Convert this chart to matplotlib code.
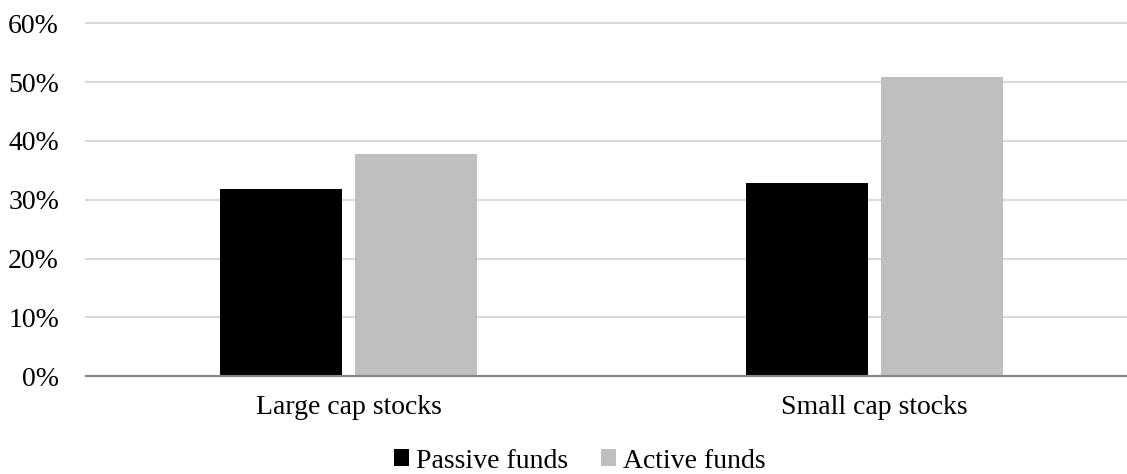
import numpy as np
import matplotlib.pyplot as plt
from matplotlib.ticker import PercentFormatter

categories = ['Large cap stocks', 'Small cap stocks']
passive = [0.318, 0.328]
active = [0.378, 0.509]
series_names = ['Passive funds', 'Active funds']

plt.rcParams['font.family'] = ['Liberation Serif', 'DejaVu Serif']

fig = plt.figure(figsize=(11.27, 4.74), dpi=100)
ax = fig.add_axes([85.5 / 1127, 98 / 474, (1127 - 85.5) / 1127, (376 - 23.5) / 474])

x = np.arange(len(categories))
w = 0.232
ax.bar(x - 0.128, passive, w, color='black', label=series_names[0], zorder=3)
ax.bar(x + 0.128, active, w, color='#bfbfbf', label=series_names[1], zorder=3)

ax.set_xlim(-0.5, -0.5 + (1127 - 85.5) / 526)
ax.set_ylim(0, 0.6)
ax.set_yticks(np.arange(0, 0.61, 0.1))
ax.yaxis.set_major_formatter(PercentFormatter(1.0, decimals=0))
ax.set_xticks(x)
ax.set_xticklabels(categories)
ax.tick_params(axis='both', length=0, labelsize=20, colors='black')
ax.tick_params(axis='y', pad=19)
ax.tick_params(axis='x', pad=14)
ax.grid(axis='y', color='#d9d9d9', linewidth=1.5, zorder=0)
for gl in ax.get_ygridlines():
    gl.set_clip_on(False)
for s in ['top', 'right', 'left']:
    ax.spines[s].set_visible(False)
ax.spines['bottom'].set_color('#868686')
ax.spines['bottom'].set_linewidth(1.5)
ax.spines['bottom'].set_zorder(4)

fig.legend(loc='center', bbox_to_anchor=(580 / 1127, 1 - 461 / 474), ncol=2, frameon=False,
           fontsize=20, handlelength=0.54, handleheight=0.54, handletextpad=0.25,
           columnspacing=1.2, borderpad=0)

fig.savefig('out.png', dpi=100)
